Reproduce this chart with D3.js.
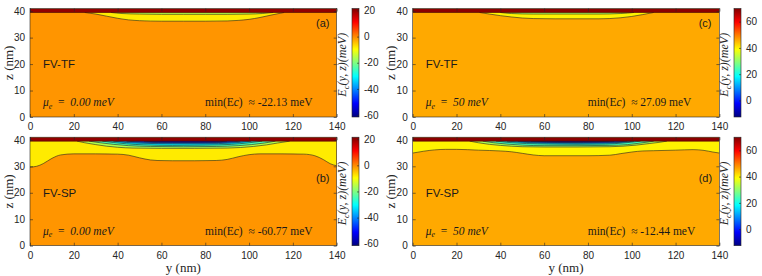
<!DOCTYPE html>
<html><head><meta charset="utf-8">
<script src="https://cdn.jsdelivr.net/npm/d3@7"></script>
<style>body{margin:0;background:#fff} svg{display:block} text{white-space:pre}</style>
</head><body><svg id="c" width="762" height="276"></svg>
<script>
// ---------- data ----------
const yTicks = [0, 20, 40, 60, 80, 100, 120, 140];
const zTicks = [0, 10, 20, 30, 40];
const yDomain = [0, 140];
const zDomain = [0, 41];
const gateZ = [39.5, 41];
const panelIds = ["a", "b", "c", "d"];
const methodLabels = ["FV-TF", "FV-SP", "FV-TF", "FV-SP"];
const muValues = ["0.00", "0.00", "50", "50"];
const minEcValues = ["-22.13", "-60.77", "27.09", "-12.44"];
const cbDomainMu0 = [-61.5, 21.5];
const cbDomainMu50 = [-12.6, 70];
const cbTicksMu0 = [-60, -40, -20, 0, 20];
const cbTicksMu50 = [0, 20, 40, 60];
const gateLevels = [20, 20, 69, 69];
const backgroundLevels = [-1, -1, 46, 46];

// panel (a): FV-TF, mu = 0
const aYellowY = [25, 30, 35, 40, 45, 50, 60, 70, 80, 90, 95, 100, 105, 110, 116];
const aYellowZ = [39.5, 38.9, 38.1, 37.3, 36.7, 36.4, 36.2, 36.2, 36.2, 36.3, 36.5, 36.9, 37.6, 38.5, 39.5];
const aGreenY = [37, 42, 50, 60, 70, 80, 90, 100, 106, 111];
const aGreenZ = [39.5, 39.1, 38.9, 38.8, 38.8, 38.8, 38.8, 38.9, 39.1, 39.5];

// panel (b): FV-SP, mu = 0
const bYellowY = [0, 3, 6, 10, 14, 20, 30, 40, 45, 50, 55, 58, 65, 75, 85, 90, 95, 100, 105, 115, 125, 130, 134, 137, 140];
const bYellowZ = [29.7, 30.0, 31.0, 33.0, 34.3, 34.7, 34.7, 34.6, 34.2, 33.2, 32.4, 32.2, 32.1, 32.1, 32.2, 32.6, 33.6, 34.4, 34.7, 34.7, 34.6, 34.0, 32.5, 31.0, 30.2];
const bL1Y = [21.5, 25, 30, 35, 40, 47, 60, 75, 90, 96, 102, 108, 113, 118.5];
const bL1Z = [39.5, 38.9, 38.2, 37.6, 37.2, 36.9, 36.8, 36.8, 36.9, 37.1, 37.5, 38.1, 38.8, 39.5];
const bL2Y = [27, 32, 38, 45, 55, 70, 85, 95, 101, 107, 112];
const bL2Z = [39.5, 38.9, 38.3, 37.8, 37.5, 37.4, 37.5, 37.8, 38.2, 38.8, 39.5];
const bL3Y = [33, 38, 44, 52, 65, 80, 92, 99, 106];
const bL3Z = [39.5, 39.0, 38.5, 38.1, 37.9, 38.0, 38.3, 38.8, 39.5];
const bL4Y = [38, 44, 52, 65, 80, 92, 101];
const bL4Z = [39.5, 39.0, 38.7, 38.5, 38.5, 38.8, 39.5];
const bL5Y = [44, 52, 65, 80, 90, 96];
const bL5Z = [39.5, 39.1, 38.9, 38.9, 39.1, 39.5];
const bL6Y = [52, 60, 72, 84, 90];
const bL6Z = [39.5, 39.2, 39.1, 39.2, 39.5];

// panel (c): FV-TF, mu = 50
const cYellowY = [30.5, 35, 40, 45, 50, 55, 65, 75, 85, 90, 95, 100, 105, 110];
const cYellowZ = [39.5, 38.9, 38.3, 37.8, 37.4, 37.2, 37.1, 37.1, 37.1, 37.2, 37.5, 38.0, 38.7, 39.5];
const cGreenY = [40, 45, 55, 70, 85, 95, 101];
const cGreenZ = [39.5, 39.1, 38.9, 38.9, 38.9, 39.1, 39.5];

// panel (d): FV-SP, mu = 50
const dYellowY = [0, 5, 10, 15, 20, 30, 40, 45, 50, 55, 60, 70, 80, 90, 95, 100, 105, 110, 120, 128, 133, 137, 140];
const dYellowZ = [35.0, 35.7, 36.2, 36.4, 36.4, 36.1, 35.8, 35.5, 34.9, 34.3, 34.0, 34.0, 34.0, 34.2, 34.8, 35.4, 35.8, 35.9, 36.1, 36.3, 36.0, 35.4, 35.0];
const dL1Y = [26, 30, 35, 40, 45, 50, 60, 75, 90, 96, 102, 108, 112, 116];
const dL1Z = [39.5, 38.9, 38.3, 37.9, 37.6, 37.4, 37.3, 37.3, 37.4, 37.6, 38.0, 38.6, 39.0, 39.5];
const dL2Y = [32, 37, 43, 50, 60, 75, 90, 98, 104, 110];
const dL2Z = [39.5, 38.9, 38.4, 38.0, 37.8, 37.8, 37.9, 38.2, 38.8, 39.5];
const dL3Y = [38, 44, 52, 62, 75, 88, 96, 104];
const dL3Z = [39.5, 39.0, 38.6, 38.4, 38.3, 38.4, 38.8, 39.5];
const dL4Y = [43, 50, 60, 75, 88, 96, 101];
const dL4Z = [39.5, 39.1, 38.8, 38.7, 38.8, 39.1, 39.5];
const dL5Y = [48, 56, 66, 78, 90, 98];
const dL5Z = [39.5, 39.2, 39.0, 39.0, 39.1, 39.5];
const dL6Y = [54, 62, 72, 84, 92];
const dL6Z = [39.5, 39.3, 39.2, 39.3, 39.5];

const layersA = [{level: -8, y: aYellowY, z: aYellowZ}, {level: -16, y: aGreenY, z: aGreenZ}];
const layersB = [{level: -8, y: bYellowY, z: bYellowZ}, {level: -16, y: bL1Y, z: bL1Z}, {level: -24, y: bL2Y, z: bL2Z},
  {level: -32, y: bL3Y, z: bL3Z}, {level: -40, y: bL4Y, z: bL4Z}, {level: -48, y: bL5Y, z: bL5Z}, {level: -56, y: bL6Y, z: bL6Z}];
const layersC = [{level: 40, y: cYellowY, z: cYellowZ}, {level: 32, y: cGreenY, z: cGreenZ}];
const layersD = [{level: 40, y: dYellowY, z: dYellowZ}, {level: 32, y: dL1Y, z: dL1Z}, {level: 24, y: dL2Y, z: dL2Z},
  {level: 16, y: dL3Y, z: dL3Z}, {level: 8, y: dL4Y, z: dL4Z}, {level: 0, y: dL5Y, z: dL5Z}, {level: -8, y: dL6Y, z: dL6Z}];

// ---------- drawing ----------
function jet(t) {
  const c = v => Math.max(0, Math.min(1, v));
  return d3.rgb(255 * c(1.5 - Math.abs(4 * t - 3)), 255 * c(1.5 - Math.abs(4 * t - 2)), 255 * c(1.5 - Math.abs(4 * t - 1))).formatHex();
}
const svg = d3.select("#c");
const defs = svg.append("defs");
const axisColor = "#262626";
const sans = "'Liberation Sans', Arial, sans-serif";
const serif = "'Liberation Serif', 'Times New Roman', serif";
const plainFmt = d => String(d);

const layout = [
  {left: 30, top: 8.5, cbx: 352},
  {left: 30, top: 137.2, cbx: 352},
  {left: 412.7, top: 8.5, cbx: 734},
  {left: 412.7, top: 137.2, cbx: 734}
];
const pw = 306.7, ph = 108.5, cbw = 7;
const allLayers = [layersA, layersB, layersC, layersD];
const cbDomains = [cbDomainMu0, cbDomainMu0, cbDomainMu50, cbDomainMu50];
const cbTicks = [cbTicksMu0, cbTicksMu0, cbTicksMu50, cbTicksMu50];

panelIds.forEach((id, i) => {
  const L = layout[i];
  const x = d3.scaleLinear().domain(yDomain).range([L.left, L.left + pw]);
  const z = d3.scaleLinear().domain(zDomain).range([L.top + ph, L.top]);
  const color = d3.scaleSequential(jet).domain(cbDomains[i]);
  const clipId = "clip" + id;
  defs.append("clipPath").attr("id", clipId).append("rect")
    .attr("x", L.left).attr("y", L.top).attr("width", pw).attr("height", ph);
  const g = svg.append("g").attr("clip-path", `url(#${clipId})`);
  // background
  g.append("rect").attr("x", x(yDomain[0])).attr("y", z(zDomain[1]))
    .attr("width", x(yDomain[1]) - x(yDomain[0])).attr("height", z(zDomain[0]) - z(zDomain[1]))
    .attr("fill", color(backgroundLevels[i]));
  const area = d3.area().curve(d3.curveMonotoneX)
    .x(d => x(d[0])).y0(d => z(d[1])).y1(z(gateZ[0]));
  const line = d3.line().curve(d3.curveMonotoneX).x(d => x(d[0])).y(d => z(d[1]));
  allLayers[i].forEach(layer => {
    const pts = layer.y.map((v, k) => [v, layer.z[k]]);
    g.append("path").attr("d", area(pts)).attr("fill", color(layer.level));
    g.append("path").attr("d", line(pts)).attr("fill", "none")
      .attr("stroke", "#222").attr("stroke-width", 0.7).attr("stroke-opacity", 0.85);
  });
  // gate band
  g.append("rect").attr("x", x(0)).attr("y", z(gateZ[1]))
    .attr("width", x(140) - x(0)).attr("height", z(gateZ[0]) - z(gateZ[1]))
    .attr("fill", color(gateLevels[i]));
  g.append("line").attr("x1", x(0)).attr("x2", x(140)).attr("y1", z(gateZ[0])).attr("y2", z(gateZ[0]))
    .attr("stroke", "#3a0000").attr("stroke-width", 0.6);

  // axes
  const styleAxis = sel => {
    sel.select(".domain").remove();
    sel.selectAll("line").attr("stroke", axisColor).attr("stroke-width", 0.6);
    sel.selectAll("text").attr("fill", axisColor).attr("font-family", sans).attr("font-size", 10);
  };
  svg.append("g").attr("transform", `translate(0,${L.top + ph})`)
    .call(d3.axisBottom(x).tickValues(yTicks).tickFormat(plainFmt).tickSizeInner(-3).tickSizeOuter(0).tickPadding(6)).call(styleAxis);
  svg.append("g").attr("transform", `translate(0,${L.top})`)
    .call(d3.axisTop(x).tickValues(yTicks).tickSizeInner(-3).tickSizeOuter(0).tickFormat("")).call(styleAxis);
  svg.append("g").attr("transform", `translate(${L.left},0)`)
    .call(d3.axisLeft(z).tickValues(zTicks).tickFormat(plainFmt).tickSizeInner(-3).tickSizeOuter(0).tickPadding(5)).call(styleAxis);
  svg.append("g").attr("transform", `translate(${L.left + pw},0)`)
    .call(d3.axisRight(z).tickValues(zTicks).tickSizeInner(-3).tickSizeOuter(0).tickFormat("")).call(styleAxis);
  svg.append("rect").attr("x", L.left).attr("y", L.top).attr("width", pw).attr("height", ph)
    .attr("fill", "none").attr("stroke", axisColor).attr("stroke-width", 0.6);

  // axis titles
  svg.append("text").attr("transform", `translate(${L.left - 22},${L.top + ph / 2}) rotate(-90)`)
    .attr("text-anchor", "middle").attr("dy", "0.35em")
    .attr("font-family", serif).attr("font-size", 13).attr("fill", axisColor).text("z (nm)");
  if (i % 2 === 1) {
    svg.append("text").attr("x", L.left + pw / 2).attr("y", 272).attr("text-anchor", "middle")
      .attr("font-family", serif).attr("font-size", 13).attr("fill", axisColor).text("y (nm)");
  }

  // colorbar
  const gradId = "grad" + id;
  const grad = defs.append("linearGradient").attr("id", gradId)
    .attr("x1", 0).attr("y1", 1).attr("x2", 0).attr("y2", 0);
  d3.range(0, 1.0001, 1 / 32).forEach(t => grad.append("stop").attr("offset", t).attr("stop-color", jet(t)));
  svg.append("rect").attr("x", L.cbx).attr("y", L.top).attr("width", cbw).attr("height", ph)
    .attr("fill", `url(#${gradId})`).attr("stroke", axisColor).attr("stroke-width", 0.6);
  const cs = d3.scaleLinear().domain(cbDomains[i]).range([L.top + ph, L.top]);
  svg.append("g").attr("transform", `translate(${L.cbx + cbw},0)`)
    .call(d3.axisRight(cs).tickValues(cbTicks[i]).tickFormat(plainFmt).tickSizeInner(-2).tickSizeOuter(0).tickPadding(5)).call(styleAxis);
  svg.append("text").attr("transform", `translate(${L.cbx - 6},${L.top + ph / 2 + 2}) rotate(-90)`)
    .attr("text-anchor", "middle").attr("font-family", serif).attr("font-size", 12).attr("font-style", "italic")
    .attr("fill", axisColor)
    .call(t => {
      t.append("tspan").text("E");
      t.append("tspan").attr("font-size", 8.5).attr("dy", 2.5).text("c");
      t.append("tspan").attr("dy", -2.5).text("(y, z)(meV)");
    });

  // annotations
  svg.append("text").attr("x", L.left + 13).attr("y", L.top + 59.5)
    .attr("font-family", sans).attr("font-size", 11.5).attr("fill", "#1a1a1a").text(methodLabels[i]);
  svg.append("text").attr("x", L.left + 286).attr("y", L.top + (i % 2 === 0 ? 18.5 : 44.3))
    .attr("font-family", sans).attr("font-size", 11).attr("fill", "#1a1a1a").text(`(${id})`);
  svg.append("text").attr("x", L.left + 13).attr("y", L.top + 97.5)
    .attr("font-family", serif).attr("font-size", 11.5).attr("fill", "#1a1a1a")
    .call(t => {
      t.append("tspan").attr("font-style", "italic").text("μ");
      t.append("tspan").attr("font-style", "italic").attr("font-size", 8).attr("dy", 2.5).text("e");
      t.append("tspan").attr("dy", -2.5).text("  =  ");
      t.append("tspan").attr("font-style", "italic").text(muValues[i] + " meV");
    });
  svg.append("text").attr("x", L.left + 175).attr("y", L.top + 97.5)
    .attr("font-family", serif).attr("font-size", 11.5).attr("fill", "#1a1a1a")
    .call(t => {
      t.append("tspan").text("min(E");
      t.append("tspan").attr("font-style", "italic").text("c");
      t.append("tspan").text(")  ≈ " + minEcValues[i] + " meV");
    });
});
</script></body></html>
